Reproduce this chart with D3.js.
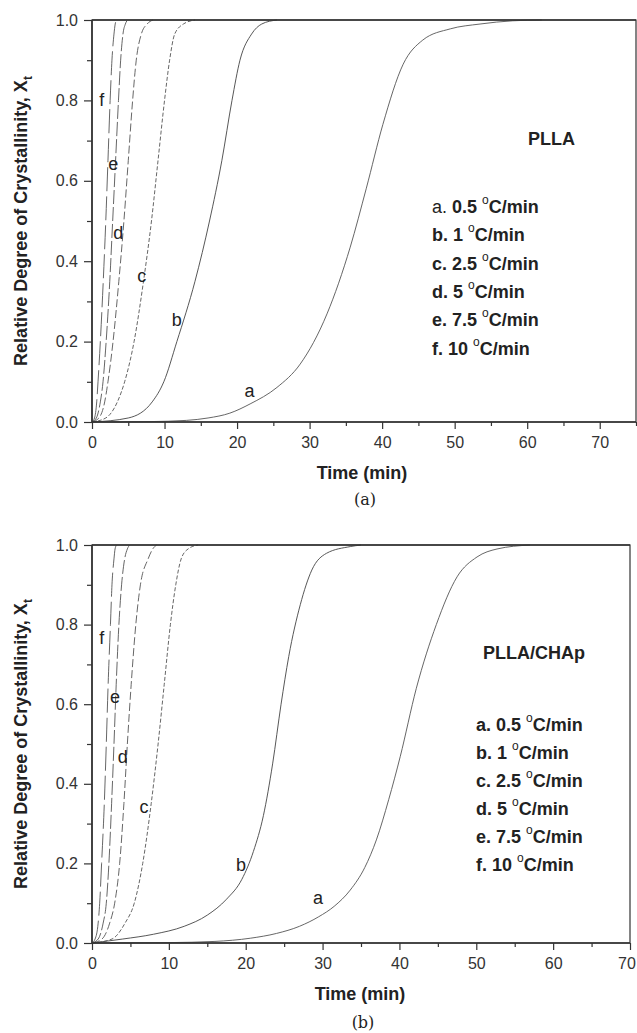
<!DOCTYPE html>
<html>
<head>
<meta charset="utf-8">
<script src="https://cdn.jsdelivr.net/npm/d3@7"></script>
<style>
  html, body { margin: 0; padding: 0; background: #fff; }
  svg { display: block; font-family: Arial, "Liberation Sans", Helvetica, sans-serif; }
</style>
</head>
<body>
<svg id="chart" width="637" height="1033"></svg>
<script>
// Relative crystallinity X(t) versus time, non-isothermal runs at six cooling rates.
// Each series is a list of [time (min), X] pairs.

// ---- Panel (a): PLLA ----
const pllaA = [[0,0],[8,0.001],[13,0.004],[16,0.01],[19,0.022],[21.8,0.045],[25.5,0.086],[28.7,0.144],[32.4,0.269],[35.6,0.435],[37.8,0.58],[40.1,0.74],[42.9,0.89],[45.6,0.95],[49.4,0.978],[53.5,0.99],[58,0.998],[62,1.0]];
const pllaB = [[0,0],[5.0,0.01],[8.3,0.05],[9.9,0.1],[11.7,0.2],[14.2,0.35],[16.2,0.5],[17.9,0.65],[19.3,0.8],[20.4,0.9],[22.0,0.965],[23.4,0.99],[25.5,1.0]];
const pllaC = [[0,0],[1.9,0.01],[3.5,0.05],[4.5,0.1],[5.8,0.2],[7.1,0.35],[8.2,0.5],[9.1,0.65],[10.0,0.8],[10.7,0.9],[11.4,0.965],[12.6,0.99],[14.2,1.0]];
const pllaD = [[0,0],[0.95,0.01],[1.75,0.05],[2.2,0.1],[2.9,0.2],[3.7,0.35],[4.4,0.5],[5.0,0.65],[5.6,0.8],[6.1,0.9],[6.8,0.965],[7.6,0.99],[8.4,1.0]];
const pllaE = [[0,0],[0.6,0.01],[1.15,0.05],[1.52,0.1],[1.95,0.2],[2.45,0.35],[2.85,0.5],[3.25,0.65],[3.65,0.8],[3.95,0.9],[4.27,0.965],[4.6,0.99],[4.9,1.0]];
const pllaF = [[0,0],[0.35,0.01],[0.65,0.05],[0.83,0.1],[1.15,0.2],[1.55,0.35],[1.9,0.5],[2.2,0.65],[2.5,0.8],[2.75,0.9],[3.03,0.965],[3.2,0.99],[3.4,1.0]];

// ---- Panel (b): PLLA/CHAp ----
const chapA = [[0,0],[10,0.001],[16,0.004],[20.6,0.012],[24,0.024],[27,0.042],[29.5,0.066],[31.5,0.092],[33.6,0.133],[35.5,0.19],[37.0,0.259],[38.6,0.36],[40.1,0.468],[42.2,0.64],[44.8,0.8],[47.5,0.92],[50.1,0.97],[52.7,0.99],[57,1.0]];
const chapB = [[0,0],[4,0.01],[8,0.022],[12,0.042],[15,0.07],[17.5,0.11],[19.5,0.16],[21,0.23],[22.3,0.32],[23.5,0.45],[24.6,0.6],[25.6,0.72],[27.1,0.85],[28.6,0.937],[30.5,0.979],[33.6,0.996],[35,1.0]];
const chapC = [[0,0],[2.6,0.01],[4.3,0.05],[5.5,0.1],[6.6,0.2],[7.7,0.35],[8.6,0.5],[9.4,0.65],[10.2,0.8],[10.9,0.9],[11.6,0.965],[12.5,0.99],[13.8,1.0]];
const chapD = [[0,0],[1.3,0.01],[2.3,0.05],[2.95,0.1],[3.6,0.2],[4.15,0.35],[4.6,0.5],[5.1,0.65],[5.7,0.8],[6.3,0.9],[7.3,0.965],[7.9,0.99],[8.4,1.0]];
const chapE = [[0,0],[0.8,0.01],[1.45,0.05],[1.86,0.1],[2.2,0.2],[2.55,0.35],[2.86,0.5],[3.15,0.65],[3.5,0.8],[3.85,0.9],[4.25,0.965],[4.6,0.99],[4.9,1.0]];
const chapF = [[0,0],[0.4,0.01],[0.8,0.05],[1.0,0.1],[1.25,0.2],[1.6,0.35],[1.86,0.5],[2.1,0.65],[2.4,0.8],[2.6,0.9],[2.86,0.965],[3.0,0.99],[3.2,1.0]];

// Curve letters and legend entries
const curveKeys = ["a", "b", "c", "d", "e", "f"];
const coolingRates = ["0.5", "1", "2.5", "5", "7.5", "10"];

// Curve-letter positions [time, X]
const pllaLabelPos = [[21.7,0.078],[11.68,0.254],[6.85,0.363],[3.63,0.47],[2.94,0.643],[1.34,0.801]];
const chapLabelPos = [[29.4,0.112],[19.4,0.196],[6.77,0.342],[3.99,0.468],[2.99,0.619],[1.26,0.766]];

// Axis ticks
const yMajorTicks = [0, 0.2, 0.4, 0.6, 0.8, 1.0];
const yMinorTicks = [0.1, 0.3, 0.5, 0.7, 0.9];
const xMajorTicksA = [0, 10, 20, 30, 40, 50, 60, 70];
const xMinorTicksA = [5, 15, 25, 35, 45, 55, 65, 75];
const xMajorTicksB = [0, 10, 20, 30, 40, 50, 60, 70];
const xMinorTicksB = [5, 15, 25, 35, 45, 55, 65];

// Line styles per curve (a..f)
const dashes = [null, null, "4,2", "8,3", "14,3", "24,5"];
const strokes = ["#555", "#444", "#555", "#555", "#555", "#555"];

const svg = d3.select("#chart");
const ink = "#222";

function drawPanel(cfg) {
  const g = svg.append("g");
  const x = d3.scaleLinear().domain(cfg.xDomain).range([cfg.left, cfg.right]);
  const y = d3.scaleLinear().domain([0, 1]).range([cfg.bottom, cfg.top]);

  // Curves
  const line = d3.line().x(d => x(d[0])).y(d => y(d[1])).curve(d3.curveMonotoneX);
  cfg.series.forEach((s, i) => {
    g.append("path")
      .datum(s)
      .attr("d", line)
      .attr("fill", "none")
      .attr("stroke", strokes[i])
      .attr("stroke-width", 0.9)
      .attr("stroke-dasharray", dashes[i]);
  });

  // Frame
  g.append("rect")
    .attr("x", cfg.left).attr("y", cfg.top)
    .attr("width", cfg.right - cfg.left).attr("height", cfg.bottom - cfg.top)
    .attr("fill", "none").attr("stroke", "#333").attr("stroke-width", 1.2);
  g.append("line").attr("x1", cfg.left).attr("x2", cfg.left).attr("y1", cfg.top).attr("y2", cfg.bottom)
    .attr("stroke", "#333").attr("stroke-width", 1.6);
  g.append("line").attr("x1", cfg.left).attr("x2", cfg.right).attr("y1", cfg.bottom).attr("y2", cfg.bottom)
    .attr("stroke", "#333").attr("stroke-width", 1.6);
  g.append("line").attr("x1", cfg.left).attr("x2", cfg.right).attr("y1", cfg.top).attr("y2", cfg.top)
    .attr("stroke", "#333").attr("stroke-width", 1.6);

  // Y axis
  const ya = g.append("g").attr("transform", `translate(${cfg.left},0)`)
    .call(d3.axisLeft(y).tickValues(yMajorTicks).tickFormat(d3.format(".1f")).tickSize(8).tickPadding(6));
  const ym = g.append("g").attr("transform", `translate(${cfg.left},0)`)
    .call(d3.axisLeft(y).tickValues(yMinorTicks).tickFormat("").tickSize(5));

  // X axis
  const xa = g.append("g").attr("transform", `translate(0,${cfg.bottom})`)
    .call(d3.axisBottom(x).tickValues(cfg.xMajor).tickFormat(d3.format("d")).tickSize(7).tickPadding(8));
  const xm = g.append("g").attr("transform", `translate(0,${cfg.bottom})`)
    .call(d3.axisBottom(x).tickValues(cfg.xMinor).tickFormat("").tickSize(4));

  [ya, ym, xa, xm].forEach(a => {
    a.select(".domain").remove();
    a.selectAll(".tick line").attr("stroke", "#333").attr("stroke-width", 1.2);
    a.selectAll(".tick text").attr("fill", "#333").attr("font-size", 16)
      .attr("font-family", "Arial, 'Liberation Sans', sans-serif");
  });

  // keep the last x label inside the page
  xa.selectAll(".tick text").each(function () {
    const bb = this.getBBox();
    const tick = d3.select(this.parentNode).attr("transform");
    const tx = +/translate\(([-\d.]+)/.exec(tick)[1];
    const over = tx + bb.x + bb.width - 636;
    if (over > 0) d3.select(this).attr("dx", -over);
  });

  // Curve letters
  cfg.labelPos.forEach((p, i) => {
    g.append("text")
      .attr("x", x(p[0])).attr("y", y(p[1]))
      .attr("text-anchor", "middle").attr("dominant-baseline", "central")
      .attr("font-size", 18).attr("fill", ink)
      .text(curveKeys[i]);
  });

  // Axis titles
  const yt = g.append("text")
    .attr("transform", `translate(${cfg.yTitleX},${(cfg.top + cfg.bottom) / 2}) rotate(-90)`)
    .attr("text-anchor", "middle")
    .attr("font-size", 18).attr("font-weight", "bold").attr("fill", ink);
  yt.append("tspan").text("Relative Degree of Crystallinity, X");
  yt.append("tspan").attr("font-size", 12).attr("dy", 5).text("t");

  g.append("text")
    .attr("x", cfg.xTitleX).attr("y", cfg.xTitleY)
    .attr("text-anchor", "middle").attr("dominant-baseline", "central")
    .attr("font-size", 18).attr("font-weight", "bold").attr("fill", ink)
    .text("Time (min)");

  g.append("text")
    .attr("x", cfg.xTitleX + 3).attr("y", cfg.captionY)
    .attr("text-anchor", "middle").attr("dominant-baseline", "central")
    .attr("font-size", 16).attr("font-family", "'DejaVu Serif', 'Liberation Serif', serif").attr("fill", ink)
    .text(cfg.caption);

  // Sample name
  g.append("text")
    .attr("x", cfg.nameX).attr("y", cfg.nameY)
    .attr("dominant-baseline", "central")
    .attr("font-size", 18).attr("font-weight", "bold").attr("fill", ink)
    .text(cfg.name);

  // Legend
  coolingRates.forEach((r, i) => {
    const t = g.append("text")
      .attr("x", cfg.legendX).attr("y", cfg.legendY + i * cfg.legendStep)
      .attr("dominant-baseline", "central")
      .attr("font-size", 18).attr("font-weight", "bold").attr("fill", ink);
    t.append("tspan").attr("font-weight", (i === 0 && cfg.firstKeyPlain) ? "normal" : "bold").text(curveKeys[i] + ". ");
    t.append("tspan").text(r + " ");
    t.append("tspan").attr("font-size", 12).attr("font-weight", "normal").attr("dy", -7).text("o");
    t.append("tspan").attr("dy", 7).text("C/min");
  });
}

drawPanel({
  left: 92, right: 636, top: 20, bottom: 422,
  xDomain: [0, 75], xMajor: xMajorTicksA, xMinor: xMinorTicksA,
  series: [pllaA, pllaB, pllaC, pllaD, pllaE, pllaF],
  labelPos: pllaLabelPos,
  yTitleX: 27, xTitleX: 362, xTitleY: 473, captionY: 499, caption: "(a)",
  name: "PLLA", nameX: 528, nameY: 139,
  legendX: 432, legendY: 207, legendStep: 28.3, firstKeyPlain: true
});

drawPanel({
  left: 92, right: 630, top: 545, bottom: 943,
  xDomain: [0, 70], xMajor: xMajorTicksB, xMinor: xMinorTicksB,
  series: [chapA, chapB, chapC, chapD, chapE, chapF],
  labelPos: chapLabelPos,
  yTitleX: 27, xTitleX: 360, xTitleY: 994, captionY: 1022, caption: "(b)",
  name: "PLLA/CHAp", nameX: 483, nameY: 653,
  legendX: 476, legendY: 725, legendStep: 28, firstKeyPlain: false
});
</script>
</body>
</html>
